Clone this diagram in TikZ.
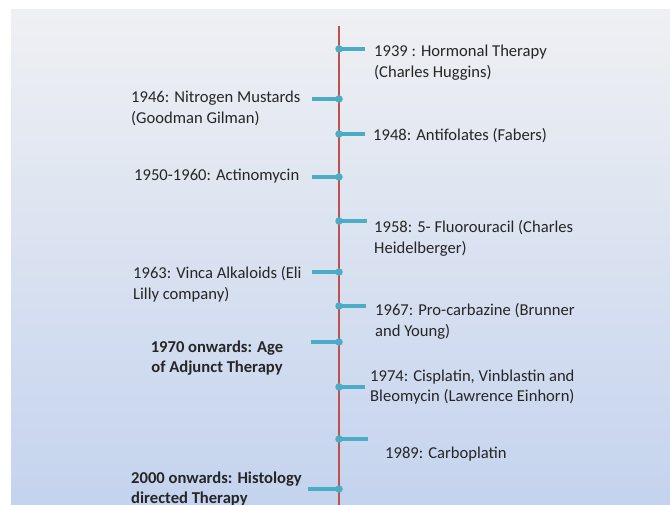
\documentclass[tikz,border=0pt]{standalone}
\usepackage{fontspec}
\setmainfont{Carlito}
\definecolor{bgtop}{HTML}{EFF0F3}
\definecolor{bgbot}{HTML}{C4D3EE}
\definecolor{axisred}{HTML}{C0504D}
\definecolor{tickteal}{HTML}{4BACC6}
\definecolor{txt}{HTML}{262626}
\tikzset{
  lbl/.style={anchor=west, inner sep=0pt, align=left, text=txt, font=\fontsize{16.6}{20.8}\selectfont},
  blbl/.style={lbl, font=\fontsize{16.6}{20.8}\selectfont\bfseries},
  tick/.style={draw=tickteal, line width=3.2pt},
  dot/.style={circle, fill=tickteal, inner sep=0pt, minimum size=7.5pt},
  axis/.style={draw=axisred, line width=2.8pt}
}
\begin{document}
\begin{tikzpicture}[x=1pt,y=-1pt]
\useasboundingbox (0,0) rectangle (670,505);
\shade[top color=bgtop, bottom color=bgbot] (11,10) rectangle (670,505);
% axis
\coordinate (top) at (339,26);
\coordinate (bot) at (339,505);
\draw[axis] (top) -- (bot);
% ticks: dot positions and free ends
\foreach \n/\y/\e in {a/49/365, c/134/365, e/221/367, g/306/366, i/387/365, j/439/368}{
  \coordinate (d\n) at (339,\y);
  \coordinate (e\n) at (\e,\y);
  \draw[tick] (d\n) -- (e\n);
  \node[dot] at (d\n) {};
}
\foreach \n/\y/\e in {b/99/312, d/177/312, f/272/312, h/342/311, k/489/308}{
  \coordinate (d\n) at (339,\y);
  \coordinate (e\n) at (\e,\y);
  \draw[tick] (d\n) -- (e\n);
  \node[dot] at (d\n) {};
}
% labels
\node[lbl] (t1939) at (374,63) {1939 : Hormonal Therapy\\(Charles Huggins)};
\node[lbl] (t1946) at (131,108) {1946: Nitrogen Mustards\\(Goodman Gilman)};
\node[lbl] (t1948) at (373,136) {1948: Antifolates (Fabers)};
\node[lbl] (t1950) at (134,176) {1950-1960: Actinomycin};
\node[lbl] (t1958) at (374,238) {1958: 5- Fluorouracil (Charles\\Heidelberger)};
\node[lbl] (t1963) at (133,284) {1963: Vinca Alkaloids (Eli\\Lilly company)};
\node[lbl] (t1967) at (375,321) {1967: Pro-carbazine (Brunner\\and Young)};
\node[blbl, anchor=center, align=center] (t1970) at (217,358) {1970 onwards: Age\\of Adjunct Therapy};
\node[lbl] (t1974) at (370,387) {1974: Cisplatin, Vinblastin and\\Bleomycin (Lawrence Einhorn)};
\node[lbl] (t1989) at (385,454) {1989: Carboplatin};
\node[blbl] (t2000) at (131,489) {2000 onwards: Histology\\directed Therapy};
\end{tikzpicture}
\end{document}
